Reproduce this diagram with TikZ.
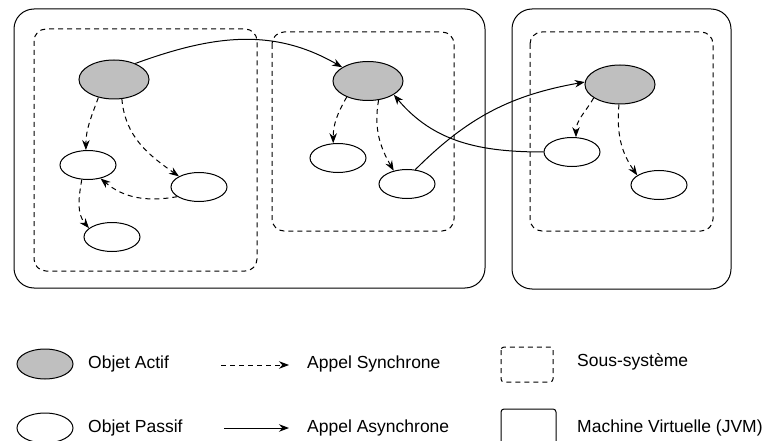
\documentclass[tikz,border=0pt]{standalone}
\usepackage{fontspec}
\setmainfont{Liberation Sans}
\usetikzlibrary{shapes.geometric,arrows.meta}
\begin{document}
\begin{tikzpicture}[x=1pt,y=1pt,
  jvm/.style={draw=black,line width=1pt,rounded corners=20pt},
  subsys/.style={draw=black,line width=1pt,dash pattern=on 5pt off 4pt,rounded corners=12pt},
  actif/.style={ellipse,draw,line width=1pt,fill=black!25,minimum width=70pt,minimum height=39pt,inner sep=0pt},
  passif/.style={ellipse,draw,line width=1pt,fill=white,minimum width=56pt,minimum height=29pt,inner sep=0pt},
  sync/.style={line width=1pt,dash pattern=on 5pt off 4pt,-{Stealth[length=10pt,width=7.5pt]}},
  async/.style={line width=1pt,-{Stealth[length=10pt,width=7.5pt]}},
  lbl/.style={anchor=west,inner sep=0pt,font=\fontsize{17.5}{20}\selectfont}
]
\useasboundingbox (0,0) rectangle (771,-441);
% JVMs
\draw[jvm] (14,-9) rectangle (485,-288);
\draw[jvm] (512,-9) rectangle (731,-289);
% subsystems
\draw[subsys] (34,-29) rectangle (257,-271);
\draw[subsys] (272,-32) rectangle (454,-231);
\draw[subsys] (530,-32) rectangle (713,-231);
% objects
\node[actif] (A1) at (114,-79.5) {};
\node[actif] (A2) at (368,-81) {};
\node[actif] (A3) at (620,-84.5) {};
\node[passif] (P1) at (88,-165) {};
\node[passif] (P2) at (199,-187) {};
\node[passif] (P3) at (112,-237) {};
\node[passif] (P4) at (338,-158) {};
\node[passif] (P5) at (407,-184) {};
\node[passif] (P6) at (572,-152) {};
\node[passif] (P7) at (659,-185) {};
% calls
\draw[async] (A1.37) to[out=20,in=150] (A2.152);
\draw[sync] (A1.229) to[out=250,in=90] (P1.98);
\draw[sync] (A1.292) to[out=-85,in=145] (P2.152);
\draw[sync] (P2.204) to[out=190,in=-40] (P1.313);
\draw[sync] (P1.247) to[out=-100,in=130] (P3.159);
\draw[sync] (A2.217) to[out=-120,in=90] (P4.108);
\draw[sync] (A2.299) to[out=-100,in=120] (P5.135);
\draw[async] (P5.60) to[out=45,in=190] (A3.176);
\draw[async] (P6.west) to[out=180,in=-50] (A2.332);
\draw[sync] (A3.207) to[out=-120,in=90] (P6.75);
\draw[sync] (A3.267) to[out=-95,in=125] (P7.156);
% legend
\node[actif,minimum width=56pt,minimum height=30pt] (LA) at (45,-364) {};
\node[passif,minimum width=56pt,minimum height=30pt] (LP) at (45,-428) {};
\node[lbl] (tA) at (88,-363.5) {Objet Actif};
\node[lbl] (tP) at (88,-427.5) {Objet Passif};
\coordinate (s1) at (221,-365);
\coordinate (s2) at (289,-365);
\coordinate (a1) at (224,-428);
\coordinate (a2) at (289,-428);
\draw[sync] (s1) -- (s2);
\draw[async] (a1) -- (a2);
\node[lbl] (tS) at (307,-363.5) {Appel Synchrone};
\node[lbl] (tAs) at (307,-427.5) {Appel Asynchrone};
\draw[subsys,rounded corners=3pt] (501,-347) rectangle (553,-382);
\draw[jvm,rounded corners=3pt] (501,-409) rectangle (556,-450);
\node[lbl] (tSS) at (577,-362) {Sous-système};
\node[lbl] (tJ) at (577,-427.5) {Machine Virtuelle (JVM)};
\end{tikzpicture}
\end{document}
